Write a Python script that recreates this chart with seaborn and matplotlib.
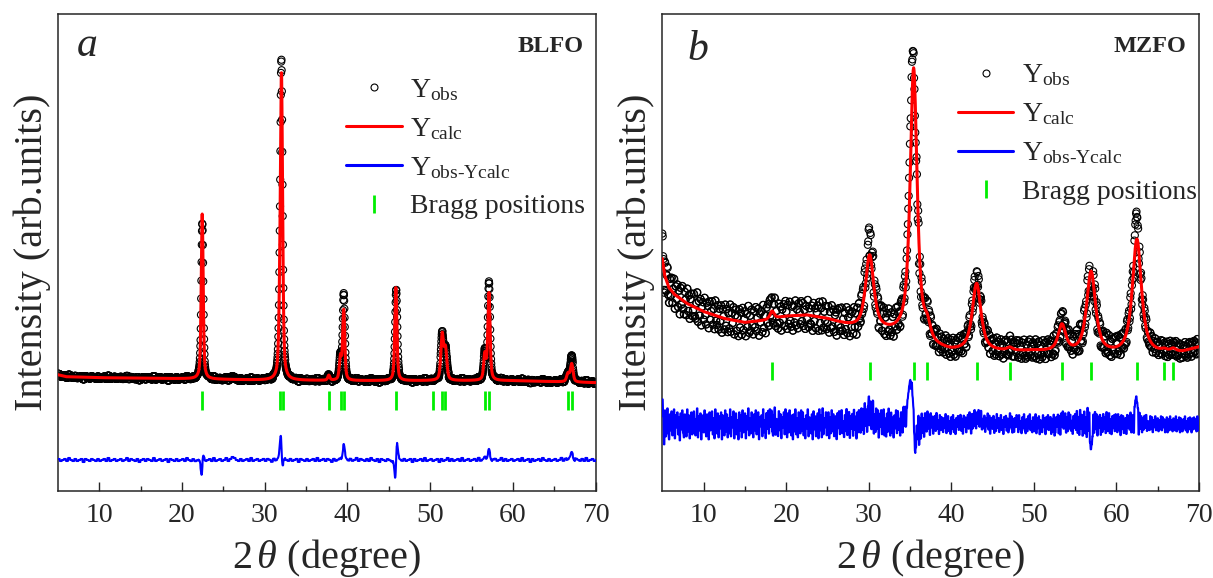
import numpy as np
import pandas as pd
import matplotlib
matplotlib.use("Agg")
import matplotlib.pyplot as plt
from matplotlib.lines import Line2D
import seaborn as sns

# ---- data (heights in pixel-like units above bottom spine) ----
# panel a : BLFO
a_bg_pos = [5.0, 6.0, 10.0, 20.0, 30.0, 40.0, 50.0, 60.0, 70.0]
a_bg_val = [116, 114, 113, 112, 110.5, 110, 110, 110, 108]
a_peak_pos = [22.45, 31.80, 32.03, 37.75, 39.15, 39.55, 45.85, 51.45, 51.85, 56.60, 57.10, 66.65, 67.10]
a_peak_calc = [165, 30, 300, 5, 22, 70, 93, 45, 30, 25, 87, 8, 18]
a_peak_obs = [158, 30, 314, 5, 22, 84, 92, 45, 30, 27, 97, 9, 25]
a_peak_obs_pos = [22.46, 31.80, 32.02, 37.75, 39.15, 39.55, 45.89, 51.45, 51.85, 56.60, 57.10, 66.65, 67.10]
a_peak_fwhm = [0.28, 0.30, 0.32, 0.30, 0.30, 0.30, 0.30, 0.38, 0.38, 0.32, 0.32, 0.38, 0.38]
a_bragg = [22.47, 31.80, 32.17, 37.77, 39.18, 39.56, 45.86, 50.37, 51.46, 51.82, 56.60, 57.14, 66.66, 67.08]
# scatter of the observed points, one value per 0.25 deg (5.00 ... 70.00)
a_noise = [1, -1, 0, 1, -1, 2, 0, -1, 1, -1, 0, 1, -2, 1, 0, -1, 1, 0, -1, 1,
           -1, 0, 1, -1, 2, -1, 0, 1, -1, 0, 1, -1, 0, 2, -1, 1, 0, -1, 1, -2,
           0, 1, -1, 1, 0, -1, 2, -1, 0, 1, -1, 0, 1, -2, 1, 0, -1, 1, -1, 0,
           1, -1, 2, 0, -1, 1, -1, 0, 1, -2, 1, -1, 0, 1, -1, 2, -1, 0, 1, -1,
           0, 2, -1, 1, 3, 2, 0, -1, 1, -1, 0, 1, -1, 2, -1, 0, 1, -1, 0, 1,
           -1, 1, 0, -2, 1, -1, 0, 1, -1, 2, 0, -1, 1, -1, 0, 1, -2, 1, 0, -1,
           1, -1, 0, 1, -1, 2, -1, 0, 1, -1, 1, 0, -2, 1, -1, 0, 1, -1, 2, 0,
           -1, 1, -1, 0, 2, -1, 1, 0, -1, 1, -1, 2, 0, -1, 1, -2, 1, 0, -1, 1,
           0, -1, 1, -1, 2, 0, -1, 1, -1, 0, 1, -2, 1, -1, 0, 1, -1, 2, -1, 0,
           1, -1, 0, 1, -2, 1, -1, 0, 2, -1, 1, -1, 0, 1, -1, 2, -1, 0, 1, -1,
           0, 1, -1, 2, -1, 0, 1, -1, 1, -2, 0, 1, -1, 0, 2, -1, 1, -1, 0, 1,
           -1, 0, 1, -1, 2, -1, 0, 1, -2, 1, -1, 0, 1, -1, 2, 0, -1, 1, -1, 0,
           1, -1, 0, 2, -1, 1, -1, 0, 1, -2, 1, 0, -1, 1, -1, 2, -1, 0, 1, -1,
           0]

# panel b : MZFO
b_bg_pos = [5.0, 5.3, 5.8, 6.5, 8, 10, 12.5, 15, 17.5, 20, 22.5, 25, 27.5, 29, 32, 34, 36, 38,
            40, 45, 50, 55, 60, 65, 68, 70]
b_bg_val = [232, 215, 203, 196, 187, 179, 172, 168, 170, 174, 175, 171, 164, 160, 157, 154, 147, 141,
            138, 138, 139, 136, 135, 136, 138, 143]
b_peak_pos = [18.3, 30.12, 35.45, 37.1, 43.08, 47.1, 53.42, 56.95, 62.5, 65.8, 66.9]
b_peak_calc = [8, 75, 272, 14, 68, 3, 27, 82, 115, 2, 3]
b_peak_obs = [10, 83, 282, 16, 74, 4, 30, 84, 117, 2, 3]
b_peak_obs_pos = [18.3, 30.12, 35.41, 37.1, 43.08, 47.1, 53.42, 56.95, 62.5, 65.8, 66.9]
b_peak_fwhm = [0.6, 1.2, 1.0, 0.9, 1.25, 0.8, 1.1, 1.3, 1.3, 0.8, 0.8]
b_bragg = [18.3, 30.19, 35.45, 37.08, 43.13, 47.18, 53.46, 56.96, 62.54, 65.8, 66.87]
# scatter of the observed points, one value per 0.1 deg (5.0 ... 70.0), one row per degree
b_noise = [25, 8, -20, 14, -12, 6, 16, -9, -15, 10,
           -6, 13, -11, 4, 15, -14, 9, -3, 12, -10,
           7, -16, 11, -5, 14, -8, -13, 10, 3, -12,
           15, -7, 9, -14, 6, 12, -10, -4, 13, -9,
           -11, 5, 16, -13, 8, -6, 11, -15, 4, 9,
           -8, 14, -3, -12, 10, 7, -15, 12, -6, 3,
           13, -10, 6, -14, 15, -5, -9, 11, -13, 8,
           -4, 12, -15, 9, 2, -11, 14, -7, 10, -13,
           6, -9, 15, -12, 7, -3, 13, -14, 5, 11,
           -10, 4, -15, 12, -6, 9, -13, 14, -8, 3,
           11, -14, 8, -5, 16, -11, 6, -9, 12, -4,
           -13, 10, -6, 14, -10, 3, 12, -15, 7, -2,
           9, -12, 15, -8, 4, -14, 11, -5, 13, -10,
           14, -4, 12, -9, -13, 8, 16, -11, 5, -7,
           -12, 13, -6, 10, -14, 7, -3, 12, -10, 15,
           4, -13, 11, -8, 14, -5, -11, 9, -15, 10,
           -7, 15, -10, 6, -13, 12, 3, -9, 14, -6,
           12, -11, 5, -14, 9, -4, 15, -12, 7, -8,
           -9, 10, -15, 13, -5, 8, -12, 4, 11, -14,
           15, -6, 9, -13, 16, -10, 6, -3, 12, -11,
           -5, 12, -14, 7, -9, 14, -7, 10, -12, 5,
           8, -15, 11, -4, 13, -10, -6, 14, -9, 3,
           -13, 9, -7, 15, -11, 5, 12, -14, 8, -5,
           10, -12, 14, -6, 7, -15, 11, -9, 13, -4,
           -10, 14, -8, 12, -13, 17, -6, 9, -14, 11,
           20, -9, 15, -12, 8, 18, -14, 6, -11, 13,
           -7, 12, -15, 9, -4, 13, -11, 7, 14, -12,
           5, -13, 10, -8, 15, -6, -12, 11, -9, 6,
           -14, 8, -5, 13, -10, 12, -7, 4, -13, 10,
           9, -11, 14, -6, 12, -9, 7, 14, 18, 22,
           24, 14, 20, 10, 6, -12, -24, -16, 6, -8,
           14, -16, 9, -12, 12, -8, 6, -13, 10, -5,
           -9, 11, -6, 8, -12, 10, -4, 7, -10, 5,
           8, -7, 11, -5, 4, -10, 9, -6, 7, -3,
           -8, 6, -4, 10, -9, 5, 8, -7, 3, -10,
           7, -5, 9, -8, 4, -10, 6, -3, 8, -6,
           -4, 9, -7, 5, -10, 8, -3, 6, -9, 4,
           8, -6, 10, -4, -12, 7, -8, 5, 9, -7,
           -10, 6, -5, 9, -7, 4, 10, -8, 3, -6,
           7, -9, 5, -3, 10, -6, 8, -10, 4, 6,
           -5, 8, -9, 4, -7, 10, -4, 6, -8, 3,
           9, -6, 4, -10, 7, -3, 8, -7, 5, -9,
           -6, 10, -4, 7, -9, 5, -8, 6, -3, 9,
           6, -8, 9, -5, 3, -9, 7, -4, 10, -6,
           -9, 5, -7, 8, -4, 10, -6, 3, -8, 7,
           5, -7, 10, -9, 6, -4, 8, -10, 4, -5,
           -8, 9, -3, 6, -10, 7, -5, 9, -6, 4,
           7, -10, 5, -8, 9, -12, -9, 6, -4, 8,
           -11, 6, -13, 8, -5, 10, -7, 4, 9, -10,
           6, -8, 11, -5, 9, -7, 3, -10, 8, -4,
           10, -6, 13, -9, 7, -11, 14, -5, 9, -12,
           -7, 12, -10, 6, -14, 15, -8, 10, -20, -27,
           -22, -14, 8, -10, 11, -6, 9, -12, 7, -4,
           9, -11, 6, -8, 10, -5, 7, -9, 12, -7,
           -6, 11, -9, 5, -10, 8, -4, 9, -7, 10,
           4, -8, 10, -6, 7, -11, 9, -5, 8, -9,
           -7, 6, -10, 9, -4, 8, -6, 11, -9, 5,
           8, -10, 16, 22, 26, 20, 14, -12, 10, -6,
           7, -9, 5, -6, 8, -4, 9, -7, 3, -5,
           -6, 8, -5, 7, -8, 4, -3, 8, -6, 5,
           6, -7, 4, -5, 8, -6, 7, -3, 5, -8,
           -4, 7, -8, 5, -6, 8, -5, 4, -7, 6,
           5, -6, 8, -7, 4, -5, 7, -8, 6, -3,
           -7, 5, -4, 8, -6, 3, -8, 6, -5, 7,
           4, -8, 6, -5, 7, -4, 5, -7, 8, -6,
           3]


def pvoigt(x, pos, height, fwhm, eta):
    out = np.zeros_like(x)
    for p, h, w in zip(pos, height, fwhm):
        d = (x - p) / w
        out += h * (eta / (1 + 4 * d ** 2) + (1 - eta) * np.exp(-4 * np.log(2) * d ** 2))
    return out


def pattern(step, noise, noise_step, bg_pos, bg_val, pos, calc, obs_pos, obs, fwhm, eta):
    tt = np.round(np.arange(5.0, 70.0 + step / 2, step), 4)
    bg = np.interp(tt, bg_pos, bg_val)
    ycalc = bg + pvoigt(tt, pos, calc, fwhm, eta)
    rep = int(round(noise_step / step))
    yn = np.repeat(noise, rep)[:len(tt)]
    yobs = bg + pvoigt(tt, obs_pos, obs, fwhm, eta) + yn
    return pd.DataFrame({"tt": tt, "obs": yobs, "calc": ycalc, "diff": yobs - ycalc})


df_a = pattern(0.025, a_noise, 0.25, a_bg_pos, a_bg_val, a_peak_pos, a_peak_calc,
               a_peak_obs_pos, a_peak_obs, a_peak_fwhm, 0.5)
df_b = pattern(0.05, b_noise, 0.1, b_bg_pos, b_bg_val, b_peak_pos, b_peak_calc,
               b_peak_obs_pos, b_peak_obs, b_peak_fwhm, 0.8)

sns.set_style("ticks")
plt.rcParams["font.family"] = ["Liberation Serif", "DejaVu Serif"]
plt.rcParams["mathtext.fontset"] = "custom"
plt.rcParams["mathtext.rm"] = "Liberation Serif"
plt.rcParams["mathtext.it"] = "Liberation Serif:italic"
plt.rcParams["mathtext.bf"] = "Liberation Serif:bold"

fig = plt.figure(figsize=(12.13, 5.78), dpi=100)
H = 578.0
W = 1213.0
ax_a = fig.add_axes([57.8 / W, 1 - 490.7 / H, 537.9 / W, 476.7 / H])
ax_b = fig.add_axes([662.3 / W, 1 - 490.7 / H, 536.5 / W, 476.7 / H])

panels = [
    (ax_a, df_a, a_bragg, 30.7, (81, 99.7), "a", "BLFO", (0.054, 0.912), (0.536, 0.868)),
    (ax_b, df_b, b_bragg, 66.3, (110.7, 129), "b", "MZFO", (0.0665, 0.903), (0.551, 0.898)),
]

for ax, df, bragg, off, (t0, t1), letter, name, lpos, legpos in panels:
    sns.scatterplot(data=df, x="tt", y="obs", ax=ax, marker="o", s=26,
                    fc="none", ec="black", linewidth=0.8, zorder=2)
    sns.lineplot(data=df, x="tt", y="calc", ax=ax, color="#ff0000", lw=2.2,
                 estimator=None, sort=False, zorder=3)
    sns.lineplot(x=df["tt"], y=df["diff"] + off, ax=ax, color="#0000ff", lw=1.5,
                 estimator=None, sort=False, zorder=3)
    ax.vlines(bragg, t0, t1, color="#00ee00", lw=2, zorder=3)

    ax.set_xlim(5, 70)
    ax.set_ylim(0, 476.7)
    ax.set_yticks([])
    ax.set_xticks([10, 20, 30, 40, 50, 60, 70])
    ax.set_xticks([15, 25, 35, 45, 55, 65], minor=True)
    ax.tick_params(axis="x", which="major", direction="in", length=6.5, width=1.0,
                   labelsize=20, pad=8.5)
    ax.tick_params(axis="x", which="minor", direction="in", length=3.3, width=1.0)
    for sp in ax.spines.values():
        sp.set_linewidth(1.1)
        sp.set_visible(True)
    ax.set_xlabel(r"2$\,\theta$ (degree)", fontsize=29)
    ax.xaxis.set_label_coords(0.5, -0.097)
    ax.set_ylabel("Intensity (arb.units)", fontsize=29)
    ax.yaxis.set_label_coords(-0.013, 0.5)

    ax.text(lpos[0], lpos[1], letter, transform=ax.transAxes, fontsize=30,
            style="italic", ha="center", va="baseline")
    ax.text(0.977, 0.921, name, transform=ax.transAxes, fontsize=17.5,
            fontweight="bold", ha="right", va="baseline")

    handles = [
        Line2D([], [], ls="none", marker="o", ms=5, mfc="none", mec="black", mew=0.8),
        Line2D([], [], color="#ff0000", lw=2.2),
        Line2D([], [], color="#0000ff", lw=2.2),
        Line2D([], [], ls="none", marker="|", ms=13, mew=2, color="#00ee00"),
    ]
    labels = [r"Y$_{\mathrm{obs}}$", r"Y$_{\mathrm{calc}}$", r"Y$_{\mathrm{obs\text{-}Ycalc}}$",
              "Bragg positions"]
    ax.legend(handles, labels, loc="upper left", bbox_to_anchor=legpos, frameon=False,
              fontsize=20, handlelength=2.0, handletextpad=0.3, labelspacing=0.47,
              borderpad=0, borderaxespad=0)

fig.savefig("out.png", dpi=100)
